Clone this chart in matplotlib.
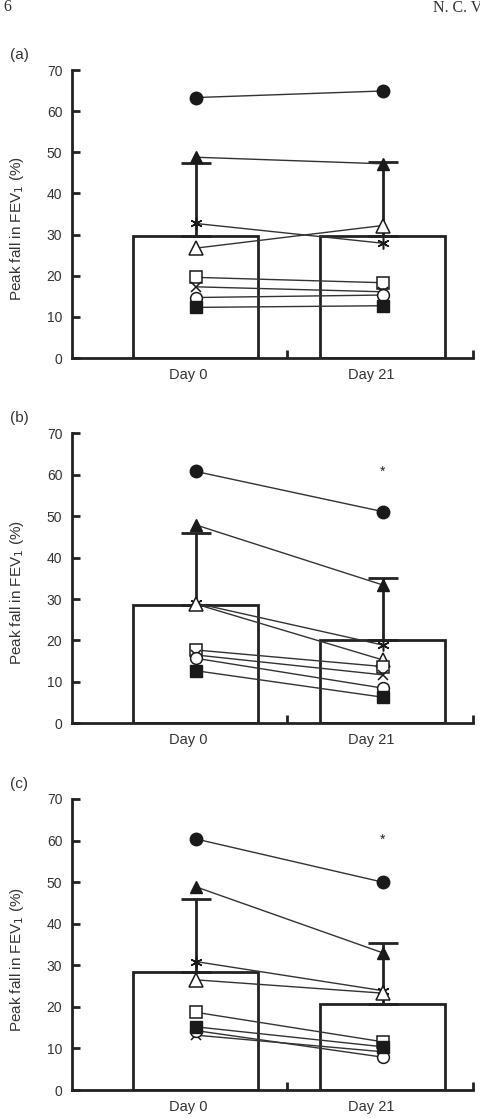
import matplotlib
matplotlib.use("Agg")
import matplotlib.pyplot as plt

plt.rcParams['font.family'] = ['Liberation Sans', 'DejaVu Sans']

days = ["Day 0", "Day 21"]
subjects = ["filled_circle", "filled_triangle", "asterisk", "open_triangle",
            "open_square", "cross", "open_circle", "filled_square"]

# Individual subject values (Day 0, Day 21) per panel
a_vals = [[63.3, 64.9], [48.8, 47.2], [32.7, 27.9], [26.7, 32.2],
          [19.6, 18.3], [17.3, 16.1], [14.7, 15.3], [12.3, 12.7]]
b_vals = [[60.8, 51.1], [47.9, 33.4], [29.0, 18.9], [28.8, 15.3],
          [17.7, 13.7], [16.5, 11.7], [15.7, 8.5], [12.7, 6.3]]
c_vals = [[60.4, 50.0], [48.9, 33.0], [30.9, 23.9], [26.5, 23.3],
          [18.7, 11.6], [13.2, 9.2], [14.3, 7.9], [15.2, 10.4]]

# Group means and SD (upper error only)
a_mean = [29.7, 29.7]
a_sd = [17.8, 17.9]
b_mean = [28.6, 20.0]
b_sd = [17.4, 15.0]
c_mean = [28.3, 20.7]
c_sd = [17.6, 14.7]

b_star = 60.6
c_star = 60.3

yticks = [0, 10, 20, 30, 40, 50, 60, 70]
panel_labels = ["(a)", "(b)", "(c)"]

marker_styles = {
    "filled_circle": dict(marker='o', mfc='#1a1a1a', mec='#1a1a1a', ms=9),
    "filled_triangle": dict(marker='^', mfc='#1a1a1a', mec='#1a1a1a', ms=9),
    "asterisk": dict(marker=(6, 2, 0), mfc='#1a1a1a', mec='#1a1a1a', ms=8.5, mew=1.1),
    "open_triangle": dict(marker='^', mfc='white', mec='#1a1a1a', ms=9.5, mew=1.1),
    "open_square": dict(marker='s', mfc='white', mec='#1a1a1a', ms=8.5, mew=1.1),
    "cross": dict(marker='x', mfc='#1a1a1a', mec='#1a1a1a', ms=7.5, mew=1.1),
    "open_circle": dict(marker='o', mfc='white', mec='#1a1a1a', ms=8.5, mew=1.1),
    "filled_square": dict(marker='s', mfc='#1a1a1a', mec='#1a1a1a', ms=8.5),
}

fig = plt.figure(figsize=(4.81, 11.18), dpi=100)

W, H = 481.0, 1118.0
left_px, right_px = 72, 473
panels_px = [(70, 358), (433.3, 723.3), (799, 1090)]

datasets = [
    (a_vals, a_mean, a_sd, None),
    (b_vals, b_mean, b_sd, b_star),
    (c_vals, c_mean, c_sd, c_star),
]

xpos = [0, 1]
dark = '#222222'
lw = 2.0

for i, ((top, bot), (vals, mean, sd, star)) in enumerate(zip(panels_px, datasets)):
    ax = fig.add_axes([left_px / W, 1 - bot / H, (right_px - left_px) / W, (bot - top) / H])
    ax.set_xlim(-0.661, 1.483)
    ax.set_ylim(0, 70)

    ax.bar(xpos, mean, width=0.67, color='white', edgecolor=dark, linewidth=lw, zorder=1)
    ax.errorbar(xpos, mean, yerr=[[0, 0], sd], fmt='none', ecolor=dark,
                elinewidth=lw, capsize=10.8, capthick=lw, zorder=2)

    for name, v in zip(subjects, vals):
        st = marker_styles[name]
        ax.plot(xpos, v, color='#333333', lw=1.0, zorder=3, **st)

    if star is not None:
        ax.text(1, star, "*", ha='center', va='center', fontsize=10, color=dark)

    for s in ['top', 'right']:
        ax.spines[s].set_visible(False)
    for s in ['left', 'bottom']:
        ax.spines[s].set_linewidth(lw)
        ax.spines[s].set_color(dark)

    ax.set_yticks(yticks)
    ax.tick_params(axis='y', direction='in', length=6, width=lw, pad=7,
                   labelsize=10, colors=dark, labelcolor='#333333')
    ax.set_xticks([-0.04, 0.937])
    ax.set_xticklabels(days)
    ax.tick_params(axis='x', length=0, pad=7, labelsize=10.5, labelcolor='#333333')
    ax.set_xticks([0.49, 1.483], minor=True)
    ax.tick_params(axis='x', which='minor', direction='in', length=6, width=lw, colors=dark)

    ax.set_ylabel("Peak fall in FEV$_1$ (%)", fontsize=11, color='#333333')
    ax.yaxis.set_label_coords(-0.115, 0.45)

    fig.text(10 / W, 1 - (top - 15) / H, panel_labels[i], fontsize=11,
             color='#333333', ha='left', va='center')

fig.text(3 / W, 1 - 7 / H, "6", fontsize=11.5, family=['Liberation Serif', 'DejaVu Serif'],
         ha='left', va='center', color='#333333')
fig.text(433 / W, 1 - 8 / H, "N. C. V", fontsize=11.5, family=['Liberation Serif', 'DejaVu Serif'],
         ha='left', va='center', color='#333333')

fig.savefig("out.png", dpi=100)
